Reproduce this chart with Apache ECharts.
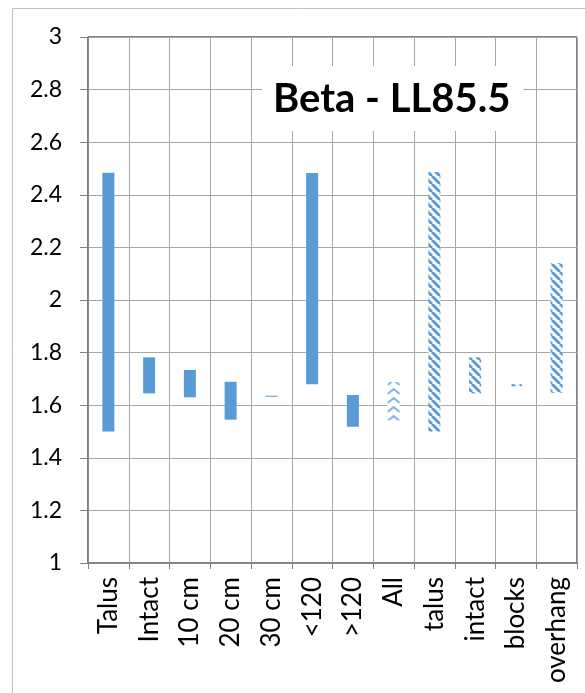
<!DOCTYPE html>
<html><head><meta charset="utf-8">
<script src="https://cdn.jsdelivr.net/npm/echarts@6/dist/echarts.min.js"></script>
<style>html,body{margin:0;padding:0;background:#fff}#c{width:585px;height:693px}</style>
</head><body><div id="c"></div>
<script>
var categories = ['Talus','Intact','10 cm','20 cm','30 cm','<120','>120','All','talus','intact','blocks','overhang'];
var lowValues  = [1.500, 1.645, 1.630, 1.545, 1.632, 1.680, 1.518, 1.542, 1.500, 1.645, 1.672, 1.647];
var highValues = [2.484, 1.782, 1.734, 1.689, 1.636, 2.483, 1.639, 1.688, 2.487, 1.782, 1.680, 2.140];
var barStyles  = ['solid','solid','solid','solid','solid','solid','solid','zigzag','stripe','stripe','stripe','stripe'];
var yTicks = [1, 1.2, 1.4, 1.6, 1.8, 2, 2.2, 2.4, 2.6, 2.8, 3];

var BLUE = '#5B9BD5';
function stripePattern(){
  var c = document.createElement('canvas'); c.width = 8; c.height = 8;
  var g = c.getContext('2d');
  g.fillStyle = '#fff'; g.fillRect(0,0,8,8);
  g.strokeStyle = BLUE; g.lineWidth = 3;
  [-8,0,8].forEach(function(o){ g.beginPath(); g.moveTo(o,0); g.lineTo(o+8,8); g.stroke(); });
  return c;
}
function zigzagPattern(){
  var c = document.createElement('canvas'); c.width = 12; c.height = 9;
  var g = c.getContext('2d');
  g.fillStyle = '#fff'; g.fillRect(0,0,12,9);
  g.strokeStyle = '#7fb0e0'; g.lineWidth = 2;
  g.beginPath(); g.moveTo(0,7); g.lineTo(6,2); g.lineTo(12,7); g.stroke();
  return c;
}
var stripe = {image: stripePattern(), repeat: 'repeat'};
var zigzag = {image: zigzagPattern(), repeat: 'repeat', x: 3.6};

var rangeData = categories.map(function(c,i){
  var col = barStyles[i]==='solid' ? BLUE : (barStyles[i]==='stripe' ? stripe : zigzag);
  return {value: +(highValues[i]-lowValues[i]).toFixed(4), itemStyle:{color: col}};
});

var chart = echarts.init(document.getElementById('c'));
chart.setOption({
  animation: false,
  graphic: [{type:'rect', shape:{x:12.5, y:8.5, width:580, height:700}, style:{fill:'none', stroke:'#bfbfbf', lineWidth:1}, z:-10}],
  title: {
    text: 'Beta - LL85.5', left: 262, top: 66,
    backgroundColor: '#fff', padding: [13,13,12,11],
    textStyle: {fontFamily: 'Lato', fontWeight: 'bold', fontSize: 40, color: '#000'}
  },
  grid: {left: 88, right: 8, top: 37, bottom: 130, show: true, borderColor: '#000', borderWidth: 1},
  xAxis: {
    type: 'category', data: categories, boundaryGap: true,
    axisLine: {lineStyle: {color: '#7f7f7f', width: 1.5}},
    axisTick: {show: true, alignWithLabel: false, length: 6, lineStyle: {color: '#7f7f7f'}},
    axisLabel: {rotate: 90, margin: 14, fontFamily: 'Lato', fontSize: 26, color: '#000', interval: 0},
    splitLine: {show: true, interval: 0, lineStyle: {color: '#a6a6a6', width: 1}}
  },
  yAxis: {
    type: 'value', min: yTicks[0], max: yTicks[yTicks.length-1], interval: 0.2,
    axisLine: {show: true, lineStyle: {color: '#7f7f7f', width: 1.5}},
    axisTick: {show: true, length: 8, lineStyle: {color: '#7f7f7f'}},
    axisLabel: {margin: 26, fontFamily: 'Lato', fontSize: 23, color: '#000',
      formatter: function(v){ return String(+v.toFixed(1)); }},
    splitLine: {show: true, lineStyle: {color: '#a6a6a6', width: 1}}
  },
  series: [
    {type: 'bar', stack: 'r', data: lowValues, barWidth: 12, itemStyle: {color: 'transparent'}, silent: true},
    {type: 'bar', stack: 'r', data: rangeData, barWidth: 12}
  ]
});
</script></body></html>
